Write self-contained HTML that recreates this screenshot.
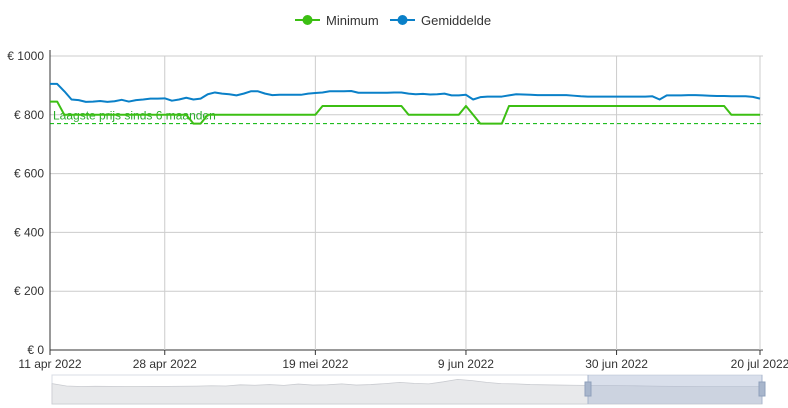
<!DOCTYPE html>
<html><head><meta charset="utf-8"><style>
body{margin:0;background:#fff;font-family:"Liberation Sans",sans-serif;overflow:hidden}
svg{display:block}
text{font-family:"Liberation Sans",sans-serif}
</style></head><body>
<svg id="chart" width="788" height="408"></svg>
<script>
const tickIndices=[0,16,37,58,79,99];
const tickLabels=["11 apr 2022","28 apr 2022","19 mei 2022","9 jun 2022","30 jun 2022","20 jul 2022"];
const yTicks=[0,200,400,600,800,1000];
const yTickLabels=["€ 0","€ 200","€ 400","€ 600","€ 800","€ 1000"];
const minimumValues=[845,845,800,800,800,800,800,800,800,800,800,800,800,800,800,800,800,800,800,800,770,770,800,800,800,800,800,800,800,800,800,800,800,800,800,800,800,800,830,830,830,830,830,830,830,830,830,830,830,830,800,800,800,800,800,800,800,800,830,800,770,770,770,770,830,830,830,830,830,830,830,830,830,830,830,830,830,830,830,830,830,830,830,830,830,830,830,830,830,830,830,830,830,830,830,800,800,800,800,800];
const averageValues=[905,905,880,852,850,844,845,847,844,846,851,845,850,852,855,855,856,848,852,858,852,855,870,876,872,870,866,872,880,880,872,867,868,868,868,868,872,874,876,880,880,880,881,875,875,875,875,875,876,876,872,870,871,869,870,872,866,866,868,852,860,862,862,862,866,870,869,868,867,867,867,867,867,865,863,862,862,862,862,862,862,862,862,862,863,852,866,866,866,867,867,866,865,864,864,863,863,863,861,855];
const lowestPrice=770;
const sliderValues=[870,850,846,848,847,846,846,847,847,848,849,852,850,860,856,862,855,866,858,860,868,858,862,870,880,872,868,885,905,895,880,870,868,862,860,858,856,855,854,853,852,850,848,847,846,845,845,845,845,845];

const svg=document.getElementById('chart');
const NS='http://www.w3.org/2000/svg';
const X0=50,X1=760,Y0=350,Y1=56;
const n=averageValues.length;
function xs(i){return X0+(X1-X0)*i/(n-1);}
function ys(v){return Y0-(Y0-Y1)*v/1000;}
function mk(tag,attrs,parent){const e=document.createElementNS(NS,tag);for(const k in attrs)e.setAttribute(k,attrs[k]);(parent||svg).appendChild(e);return e;}

yTicks.forEach((v,k)=>{
  const l=mk('line',{x1:X0,x2:X1+3,y1:ys(v),y2:ys(v),stroke:v===0?'#333':'#ccc','stroke-width':1});
  
  
  const t=mk('text',{x:44,y:ys(v)+4,'text-anchor':'end','font-size':12,fill:'#333'});
  t.textContent=yTickLabels[k];
  
  
});
tickIndices.forEach((i,k)=>{
  const x=xs(i);
  if(k>0){const g=mk('line',{x1:x,x2:x,y1:Y1,y2:Y0,stroke:'#ccc'});
  
  }
  const tk=mk('line',{x1:x,x2:x,y1:Y0,y2:Y0+5,stroke:'#333'});
  
  
  const t=mk('text',{x:x,y:368,'text-anchor':'middle','font-size':12,fill:'#333'});
  t.textContent=tickLabels[k];
  
  
});
const ya=mk('line',{x1:X0,x2:X0,y1:Y1-6,y2:Y0,stroke:'#333'});



const ll=mk('line',{x1:X0,x2:X1+2,y1:ys(lowestPrice),y2:ys(lowestPrice),stroke:'#00b400','stroke-dasharray':'4,3','stroke-width':1});


const lt=mk('text',{x:53,y:ys(lowestPrice)-4,'font-size':12,fill:'#2aad2a'});
lt.textContent='Laagste prijs sinds 6 maanden';



function series(vals,color,name){
  const p=mk('polyline',{points:vals.map((v,i)=>xs(i)+','+ys(v)).join(' '),fill:'none',stroke:color,'stroke-width':2,'stroke-linejoin':'round'});
  
  
}
series(minimumValues,'#3cbf13','minimum-line');
series(averageValues,'#0a80c8','average-line');

function legend(x,color,label,name){
  const g=mk('g',{});
  
  
  mk('line',{x1:x,x2:x+25,y1:20,y2:20,stroke:color,'stroke-width':2},g);
  mk('circle',{cx:x+12.5,cy:20,r:5,fill:color},g);
  const t=mk('text',{x:x+31,y:25,'font-size':13,fill:'#333'},g);t.textContent=label;
}
legend(295,'#3cbf13','Minimum','legend-minimum');
legend(390,'#0a80c8','Gemiddelde','legend-average');

const sg=mk('g',{});


mk('rect',{x:52,y:375,width:710,height:29,fill:'#fff',stroke:'#d8dce4'},sg);
const SX0=52,SX1=762,SB=404;
function sx(i){return SX0+(SX1-SX0)*i/(sliderValues.length-1);}
function sy(v){return SB-(v-700)*0.12;}
const pts=sliderValues.map((v,i)=>sx(i)+','+sy(v)).join(' ');
mk('polygon',{points:SX0+','+SB+' '+pts+' '+SX1+','+SB,fill:'#e8e9eb',stroke:'#c9cbd0','stroke-width':0.8},sg);
mk('rect',{x:588,y:375,width:174,height:29,fill:'rgba(170,185,210,0.45)'},sg);
[588,762].forEach(x=>{
  mk('line',{x1:x,x2:x,y1:375,y2:404,stroke:'#a8b6cc'},sg);
  const h=mk('rect',{x:x-3,y:382,width:6,height:14,fill:'#a8b6cc',stroke:'#8fa0bb'},sg);
  
  
});
</script>
</body></html>
